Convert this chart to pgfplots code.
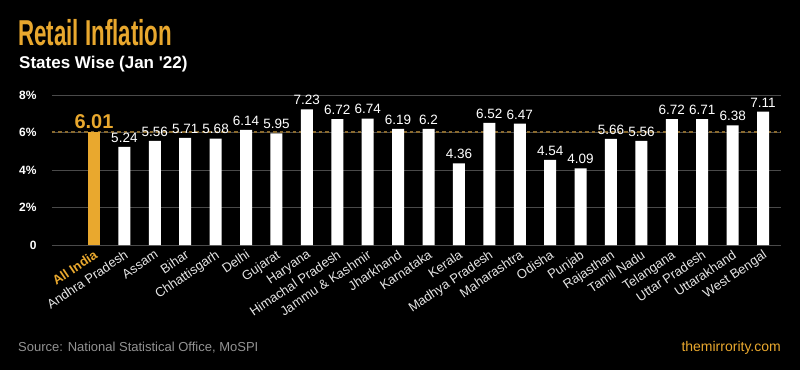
\documentclass[border=0pt]{standalone}
\usepackage{pgfplots}
\pgfplotsset{compat=1.18}
\usetikzlibrary{calc,backgrounds}
\usepackage{fontspec}
\setmainfont{Liberation Sans}
\newfontfamily\titlefont[FakeStretch=0.62]{Liberation Sans}
\definecolor{gold}{HTML}{E9A82E}
\definecolor{dimgold}{HTML}{8A6A2E}
\definecolor{gridgray}{HTML}{4A4A4A}
\begin{document}
\begin{tikzpicture}
\begin{axis}[
  scale only axis, width=729pt, height=150pt,
  xmin=-1.38, xmax=22.59, ymin=0, ymax=8,
  axis line style={draw=none},
  major tick length=0pt,
  ymajorgrids, grid style={gridgray, line width=0.8pt},
  ytick={0,2,4,6,8}, yticklabels={0,2\%,4\%,6\%,8\%},
  yticklabel style={text=white, font=\bfseries\fontsize{12}{14}\selectfont, anchor=east, xshift=-12pt},
  xtick={0,...,22},
  xticklabels={{\textcolor{gold}{\bfseries All India}},Andhra Pradesh,Assam,Bihar,Chhattisgarh,Delhi,Gujarat,Haryana,Himachal Pradesh,Jammu \& Kashmir,Jharkhand,Karnataka,Kerala,Madhya Pradesh,Maharashtra,Odisha,Punjab,Rajasthan,Tamil Nadu,Telangana,Uttar Pradesh,Uttarakhand,West Bengal},
  xticklabel style={text=white!90!black, font=\fontsize{13}{15}\selectfont, rotate=34, anchor=north east, inner sep=1pt, yshift=-2pt, xshift=-2pt},
  /pgf/number format/assume math mode=true,
  clip=false,
]
\coordinate (O) at (rel axis cs:0,0);
\addplot[dimgold, line width=2pt, dash pattern=on 3.5pt off 3pt] coordinates {(-1.38,6.01) (22.59,6.01)};
\addplot[ybar, bar width=12pt, bar shift=0pt, fill=gold, draw=none,
  nodes near coords, nodes near coords style={text=gold, font=\bfseries\fontsize{20}{22}\selectfont, anchor=south, yshift=0pt}]
  coordinates {(0,6.01)};
\addplot[ybar, bar width=12pt, bar shift=0pt, fill=white, draw=none,
  nodes near coords, nodes near coords style={text=white, font=\fontsize{13.5}{15}\selectfont, anchor=south, yshift=1pt}]
  coordinates {
  (1,5.24) (2,5.56) (3,5.71) (4,5.68) (5,6.14) (6,5.95) (7,7.23) (8,6.72)
  (9,6.74) (10,6.19) (11,6.2) (12,4.36) (13,6.52) (14,6.47) (15,4.54)
  (16,4.09) (17,5.66) (18,5.56) (19,6.72) (20,6.71) (21,6.38) (22,7.11)};
\end{axis}
\coordinate (C) at ($(O)+(-52pt,-125pt)$);
\begin{scope}[shift={(C)}, x=1pt, y=1pt]
\node[anchor=base west, inner sep=0, text=gold, font=\titlefont\bfseries\fontsize{36}{40}\selectfont] at (18,325) {Retail Inflation};
\node[anchor=base west, inner sep=0, text=white, font=\bfseries\fontsize{17}{20}\selectfont] at (19,302) {States Wise (Jan \textquotesingle22)};
\node[anchor=base west, inner sep=0, text=gray!85!white, font=\fontsize{13}{15}\selectfont] at (18,19) {Source: National Statistical Office, MoSPI};
\node[anchor=base east, inner sep=0, text=gold, font=\fontsize{14}{16}\selectfont] at (781,19) {themirrority.com};
\end{scope}
\begin{scope}[on background layer]
\fill[black] (C) rectangle ++(800pt,370pt);
\end{scope}
\pgfresetboundingbox
\path[use as bounding box] (C) rectangle ++(800pt,370pt);
\end{tikzpicture}
\end{document}
